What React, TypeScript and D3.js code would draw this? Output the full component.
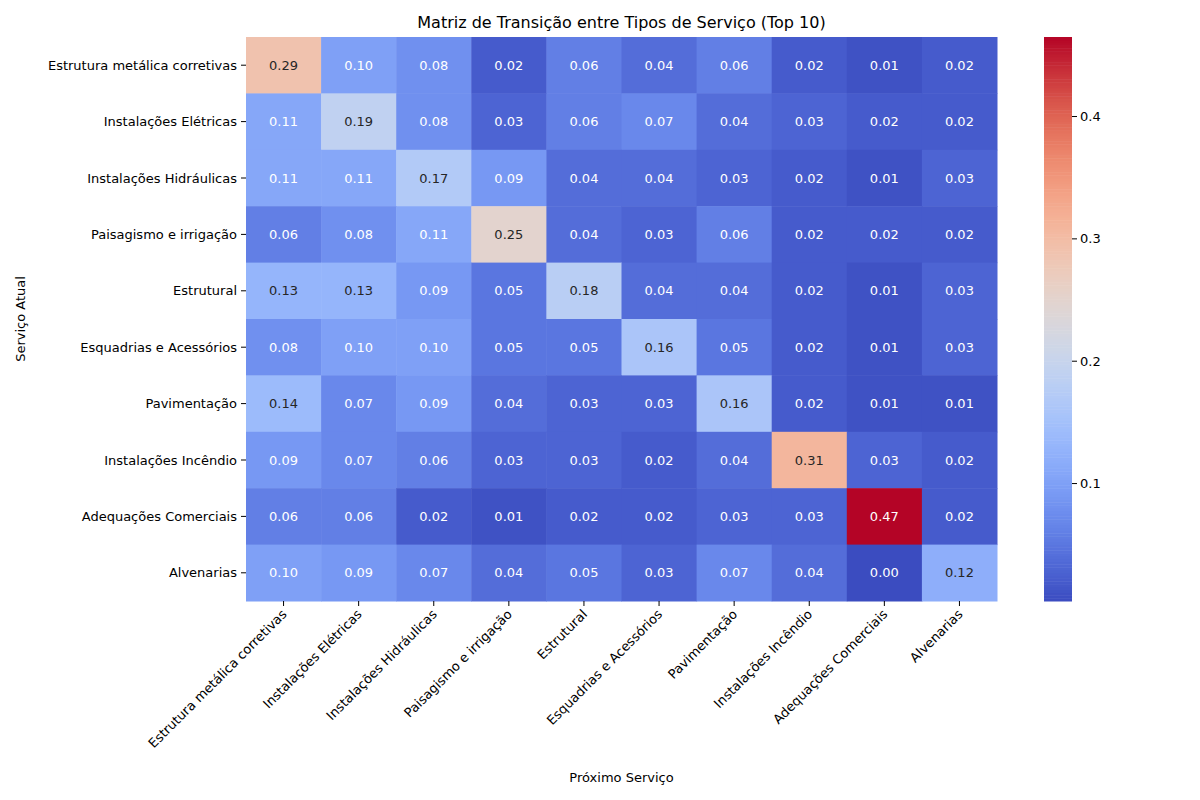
import * as d3 from "d3";

const labels = [
  "Estrutura metálica corretivas",
  "Instalações Elétricas",
  "Instalações Hidráulicas",
  "Paisagismo e irrigação",
  "Estrutural",
  "Esquadrias e Acessórios",
  "Pavimentação",
  "Instalações Incêndio",
  "Adequações Comerciais",
  "Alvenarias",
];

const matrix = [
  [0.29, 0.10, 0.08, 0.02, 0.06, 0.04, 0.06, 0.02, 0.01, 0.02],
  [0.11, 0.19, 0.08, 0.03, 0.06, 0.07, 0.04, 0.03, 0.02, 0.02],
  [0.11, 0.11, 0.17, 0.09, 0.04, 0.04, 0.03, 0.02, 0.01, 0.03],
  [0.06, 0.08, 0.11, 0.25, 0.04, 0.03, 0.06, 0.02, 0.02, 0.02],
  [0.13, 0.13, 0.09, 0.05, 0.18, 0.04, 0.04, 0.02, 0.01, 0.03],
  [0.08, 0.10, 0.10, 0.05, 0.05, 0.16, 0.05, 0.02, 0.01, 0.03],
  [0.14, 0.07, 0.09, 0.04, 0.03, 0.03, 0.16, 0.02, 0.01, 0.01],
  [0.09, 0.07, 0.06, 0.03, 0.03, 0.02, 0.04, 0.31, 0.03, 0.02],
  [0.06, 0.06, 0.02, 0.01, 0.02, 0.02, 0.03, 0.03, 0.47, 0.02],
  [0.10, 0.09, 0.07, 0.04, 0.05, 0.03, 0.07, 0.04, 0.004, 0.12],
];

const colorTicks = [0.1, 0.2, 0.3, 0.4];

const coolwarmStops = ["#3b4cc0", "#6282ea", "#8db0fe", "#b8d0f9", "#dddcdc", "#f5c4ac", "#f49a7b", "#de604d", "#b40426"];
const coolwarm = d3.interpolateRgbBasis(coolwarmStops);

const font = "DejaVu Sans, sans-serif";

export default function App() {
  const left = 246, right = 997, top = 37, bottom = 601;
  const vmin = 0.004, vmax = 0.465;
  const x = d3.scaleBand<number>().domain(d3.range(10)).range([left, right]);
  const y = d3.scaleBand<number>().domain(d3.range(10)).range([top, bottom]);
  const norm = d3.scaleLinear().domain([vmin, vmax]).range([0, 1]).clamp(true);
  const color = (v: number) => coolwarm(norm(v));
  const cbX = 1044, cbW = 28;
  const cbY = d3.scaleLinear().domain([vmin, vmax]).range([bottom, top]);
  const lum = (c: string) => {
    const r = d3.rgb(c);
    const f = (u: number) => { u /= 255; return u <= 0.03928 ? u / 12.92 : Math.pow((u + 0.055) / 1.055, 2.4); };
    return 0.2126 * f(r.r) + 0.7152 * f(r.g) + 0.0722 * f(r.b);
  };
  const steps = d3.range(0, 200);

  return (
    <svg width={1200} height={800} style={{ position: "absolute", left: 0, top: 0, background: "#fff" }} fontFamily={font}>
      <text x={(left + right) / 2} y={28} textAnchor="middle" fontSize={16}>Matriz de Transição entre Tipos de Serviço (Top 10)</text>
      {matrix.map((row, i) => row.map((v, j) => {
        const c = color(v);
        return (
          <g key={`${i}-${j}`}>
            <rect x={x(j)} y={y(i)} width={x.bandwidth() + 0.5} height={y.bandwidth() + 0.5} fill={c} />
            <text x={x(j)! + x.bandwidth() / 2} y={y(i)! + y.bandwidth() / 2} dy="0.35em" textAnchor="middle" fontSize={13}
              fill={lum(c) > 0.408 ? "#262626" : "#fff"}>{v.toFixed(2)}</text>
          </g>
        );
      }))}
      {labels.map((l, i) => (
        <g key={"y" + i}>
          <line x1={left - 5} x2={left} y1={y(i)! + y.bandwidth() / 2} y2={y(i)! + y.bandwidth() / 2} stroke="#000" />
          <text x={left - 9} y={y(i)! + y.bandwidth() / 2} dy="0.35em" textAnchor="end" fontSize={13}>{l}</text>
        </g>
      ))}
      {labels.map((l, i) => {
        const cx = x(i)! + x.bandwidth() / 2;
        return (
          <g key={"x" + i}>
            <line x1={cx} x2={cx} y1={bottom} y2={bottom + 5} stroke="#000" />
            <text transform={`translate(${cx + 4},${bottom + 14}) rotate(-45)`} textAnchor="end" fontSize={13}>{l}</text>
          </g>
        );
      })}
      <text x={(left + right) / 2} y={782} textAnchor="middle" fontSize={13}>Próximo Serviço</text>
      <text transform={`translate(25,${(top + bottom) / 2}) rotate(-90)`} textAnchor="middle" fontSize={13}>Serviço Atual</text>
      {steps.map(s => {
        const v0 = vmin + (vmax - vmin) * s / 200, v1 = vmin + (vmax - vmin) * (s + 1) / 200;
        return <rect key={"cb" + s} x={cbX} width={cbW} y={cbY(v1)} height={cbY(v0) - cbY(v1) + 0.5} fill={color((v0 + v1) / 2)} />;
      })}
      {colorTicks.map(t => (
        <g key={"ct" + t}>
          <line x1={cbX + cbW} x2={cbX + cbW + 5} y1={cbY(t)} y2={cbY(t)} stroke="#000" />
          <text x={cbX + cbW + 8} y={cbY(t)} dy="0.35em" fontSize={13}>{t.toFixed(1)}</text>
        </g>
      ))}
    </svg>
  );
}
